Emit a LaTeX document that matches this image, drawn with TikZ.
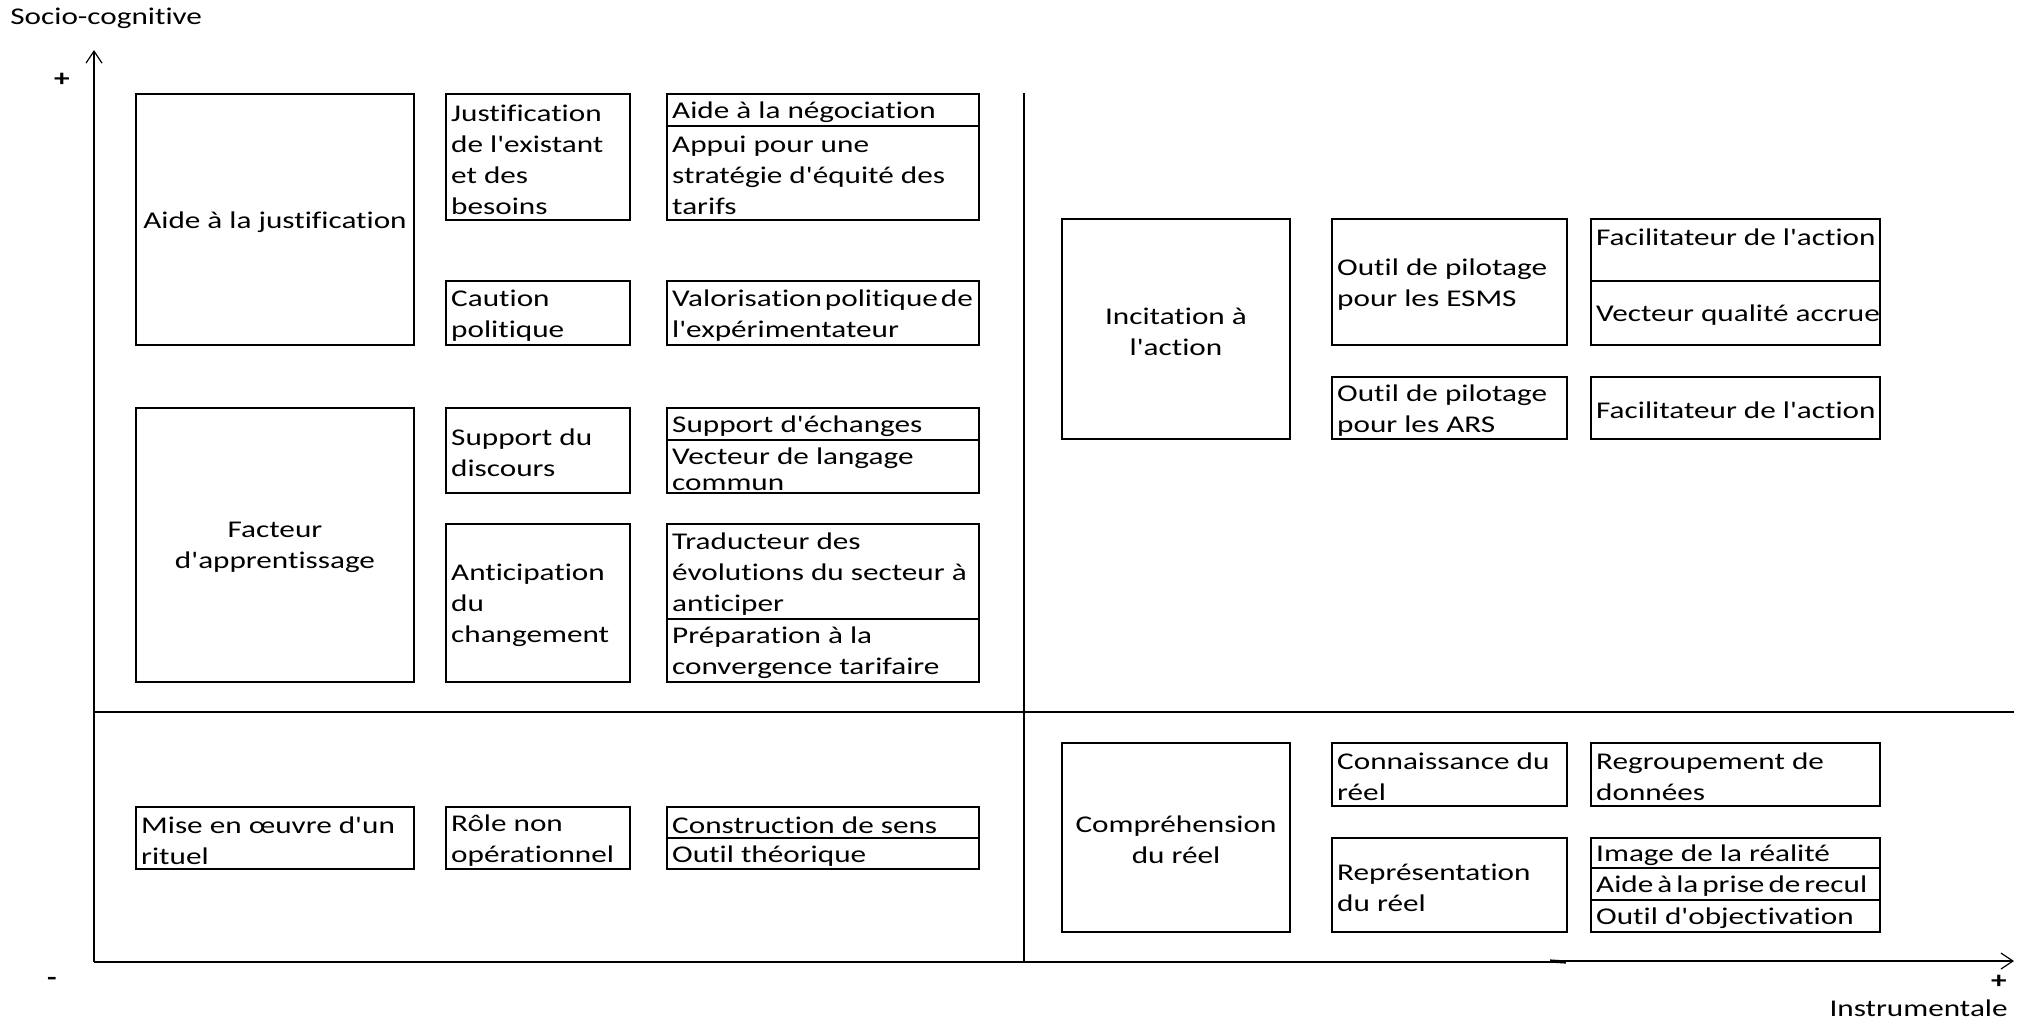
\documentclass[tikz,border=0pt]{standalone}
\usepackage{fontspec}
\setmainfont{Carlito}[FakeStretch=1.30, Ligatures={NoCommon,TeXOff}]
\usetikzlibrary{arrows.meta}
\newcommand\txtfont{\fontsize{12pt}{15.5pt}\selectfont}
\tikzset{
  cell/.style={draw, line width=0.8pt, rectangle, inner sep=0pt},
  celltext/.style={inner sep=0pt, font=\txtfont},
  axisline/.style={line width=0.8pt},
  axisarrow/.style={line width=0.8pt, -{Straight Barb[length=6pt,width=8pt,line width=0.6pt]}},
  lbl/.style={inner sep=0pt, font=\txtfont},
}
% [#1 extra text style], #2 name, #3 x1, #4 y1, #5 x2, #6 y2, #7 text  (left aligned)
\newcommand\mkbox[7][]{%
  \pgfmathsetmacro\bw{(#5-#3)*0.5}%
  \pgfmathsetmacro\bh{(#6-#4)*0.5}%
  \node[cell, minimum width=\bw pt, minimum height=\bh pt] (#2) at ({(#3+#5)/2},{(#4+#6)/2}) {};
  \node[celltext, align=left, anchor=west, #1] (#2t) at ([xshift=2.8pt,yshift=-1.2pt]#2.west) {#7};}
% centered text
\newcommand\mkcbox[7][]{%
  \pgfmathsetmacro\bw{(#5-#3)*0.5}%
  \pgfmathsetmacro\bh{(#6-#4)*0.5}%
  \node[cell, minimum width=\bw pt, minimum height=\bh pt] (#2) at ({(#3+#5)/2},{(#4+#6)/2}) {};
  \node[celltext, align=center, #1] (#2t) at ([yshift=-1.2pt]#2.center) {#7};}
\begin{document}
\begin{tikzpicture}[x=0.5pt,y=-0.5pt]
\useasboundingbox (0,0) rectangle (2031,1025);
% axes
\coordinate (o) at (94,962);
\coordinate (ytop) at (94,50);
\coordinate (xend) at (2014,961);
\coordinate (xmid) at (1566,962);
\coordinate (xs) at (1550,961);
\coordinate (hl) at (94,712);
\coordinate (hr) at (2014,712);
\coordinate (vt) at (1024,93);
\coordinate (vb) at (1024,962);
\draw[axisarrow] (o) -- (ytop);
\draw[axisline] (o) -- (xmid);
\draw[axisarrow] (xs) -- (xend);
\draw[line width=1.6pt] (xs) -- (xmid);
\draw[axisline] (hl) -- (hr);
\draw[axisline] (vt) -- (vb);
% axis labels
\node[lbl, anchor=west] (ylab) at (10,18) {Socio-cognitive};
\node[lbl] (yplus) at (62,80) {\textbf{+}};
\node[lbl] (xminus) at (52,981) {\textbf{-}};
\node[lbl] (xplus) at (1999,982) {\textbf{+}};
\node[lbl, anchor=east] (xlab) at (2008,1008) {Instrumentale};
% upper left quadrant
\mkcbox{ajust}{136}{94}{414}{345}{Aide à la justification}
\mkbox{justif}{446}{94}{630}{220}{Justification\\de l'existant\\et des\\besoins}
\mkbox{nego}{667}{94}{979}{126}{Aide à la négociation}
\mkbox{appui}{667}{126}{979}{220}{Appui pour une\\stratégie d'équité des\\tarifs}
\mkbox{caution}{446}{281}{630}{345}{Caution\\politique}
\mkbox{valor}{667}{281}{979}{345}{Valorisation\kern1.5pt politique\kern1.5pt de\\l'expérimentateur}
\mkcbox{facteur}{136}{408}{414}{682}{Facteur\\d'apprentissage}
\mkbox{supdisc}{446}{408}{630}{493}{Support du\\discours}
\mkbox{supech}{667}{408}{979}{440}{Support d'échanges}
\mkbox[font=\fontsize{12pt}{13pt}\selectfont]{vectlang}{667}{440}{979}{493}{Vecteur de langage\\commun}
\mkbox{antic}{446}{524}{630}{682}{Anticipation\\du\\changement}
\mkbox{trad}{667}{524}{979}{619}{Traducteur des\\évolutions du secteur à\\anticiper}
\mkbox{prep}{667}{619}{979}{682}{Préparation à la\\convergence tarifaire}
% lower left quadrant
\mkbox{mise}{136}{807}{414}{869}{Mise en œuvre d'un\\rituel}
\mkbox{role}{446}{807}{630}{869}{Rôle non\\opérationnel}
\mkbox{constr}{667}{807}{979}{838}{Construction de sens}
\mkbox{outilth}{667}{838}{979}{869}{Outil théorique}
% upper right quadrant
\mkcbox{incit}{1062}{219}{1290}{439}{Incitation à\\l'action}
\mkbox{esms}{1332}{219}{1567}{345}{Outil de pilotage\\pour les ESMS}
\mkbox{fac1}{1591}{219}{1880}{281}{Facilitateur de l'action\\\mbox{}}
\mkbox{vqual}{1591}{281}{1880}{345}{Vecteur qualité accrue}
\mkbox{ars}{1332}{377}{1567}{439}{Outil de pilotage\\pour les ARS}
\mkbox{fac2}{1591}{377}{1880}{439}{Facilitateur de l'action}
% lower right quadrant
\mkcbox{compr}{1062}{743}{1290}{932}{Compréhension\\du réel}
\mkbox{conn}{1332}{743}{1567}{806}{Connaissance du\\réel}
\mkbox{regr}{1591}{743}{1880}{806}{Regroupement de\\données}
\mkbox{repr}{1332}{838}{1567}{932}{Représentation\\du réel}
\mkbox{img}{1591}{838}{1880}{868}{Image de la réalité}
\mkbox{recul}{1591}{868}{1880}{900}{Aide\kern2pt à\kern2pt la\kern2pt prise\kern2pt de\kern2pt recul}
\mkbox{obj}{1591}{900}{1880}{932}{Outil d'objectivation}
\end{tikzpicture}
\end{document}
